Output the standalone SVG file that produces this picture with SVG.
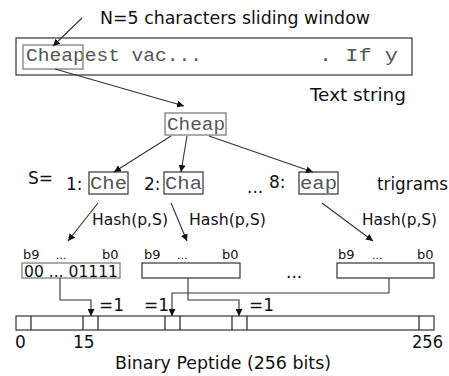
<svg xmlns="http://www.w3.org/2000/svg" width="449" height="376" viewBox="0 0 449 376">
<defs>
<marker id="ah" viewBox="0 0 10 10" refX="10" refY="5" markerWidth="7" markerHeight="7" orient="auto" markerUnits="userSpaceOnUse"><path d="M0,0 L10,5 L0,10 z" fill="#111"/></marker>
<style>
.s{font-family:"DejaVu Sans",Verdana,sans-serif;fill:#111}
.m{font-family:"Liberation Mono","Courier New",monospace;fill:#555}
.box{fill:#fff;stroke:#333;stroke-width:1.2}
.gbox{fill:none;stroke:#888;stroke-width:1.4}
.c{fill:none;stroke:#222;stroke-width:1.2}
.a{fill:none;stroke:#333;stroke-width:1.1;marker-end:url(#ah)}
</style>
</defs>
<rect width="449" height="376" fill="#fff"/>
<g id="title">
<text class="s" x="100" y="24" font-size="17" textLength="270" lengthAdjust="spacingAndGlyphs">N=5 characters sliding window</text>
</g>
<g id="textstring">
<rect class="box" x="16" y="38" width="396" height="37"/>
<text class="m" x="26" y="61" font-size="19" textLength="176" lengthAdjust="spacingAndGlyphs">Cheapest vac...</text>
<text class="m" x="319" y="61" font-size="19" textLength="79" lengthAdjust="spacingAndGlyphs">. If y</text>
<rect class="gbox" x="23" y="45" width="60" height="24"/>
<text class="s" x="310" y="101" font-size="17" textLength="96" lengthAdjust="spacingAndGlyphs">Text string</text>
</g>
<g id="cheap">
<rect class="gbox" x="165" y="113" width="61" height="22"/>
<text class="m" x="167" y="130" font-size="19" textLength="58" lengthAdjust="spacingAndGlyphs">Cheap</text>
</g>
<g id="trigrams">
<text class="s" x="28" y="184" font-size="17">S=</text>
<text class="s" x="66" y="190" font-size="17">1:</text>
<rect class="box" x="89" y="172" width="39" height="22"/>
<text class="m" x="90" y="189" font-size="18" textLength="37" lengthAdjust="spacingAndGlyphs">Che</text>
<text class="s" x="144" y="190" font-size="17">2:</text>
<rect class="box" x="164" y="172" width="39" height="22"/>
<text class="m" x="165" y="189" font-size="18" textLength="37" lengthAdjust="spacingAndGlyphs">Cha</text>
<text class="s" x="247" y="193" font-size="17">...</text>
<text class="s" x="269" y="188" font-size="17">8:</text>
<rect class="box" x="299" y="172" width="39" height="22"/>
<text class="m" x="300" y="189" font-size="18" textLength="37" lengthAdjust="spacingAndGlyphs">eap</text>
<text class="s" x="377" y="190" font-size="17" textLength="71" lengthAdjust="spacingAndGlyphs">trigrams</text>
</g>
<g id="hashlabels">
<text class="s" x="92" y="225" font-size="16" textLength="76" lengthAdjust="spacingAndGlyphs">Hash(p,S)</text>
<text class="s" x="189" y="225" font-size="16" textLength="77" lengthAdjust="spacingAndGlyphs">Hash(p,S)</text>
<text class="s" x="362" y="225" font-size="16" textLength="75" lengthAdjust="spacingAndGlyphs">Hash(p,S)</text>
</g>
<g id="bits1">
<text class="s" x="23" y="259" font-size="13" fill="#333">b9</text>
<text class="s" x="56" y="259" font-size="11" fill="#555">...</text>
<text class="s" x="102" y="259" font-size="13" fill="#333">b0</text>
<rect class="gbox" x="22" y="263" width="98" height="15" stroke="#666"/>
<text class="s" x="24" y="277" font-size="15" textLength="94" lengthAdjust="spacingAndGlyphs">00 ... 01111</text>
</g>
<g id="bits2">
<text class="s" x="144" y="259" font-size="13" fill="#333">b9</text>
<text class="s" x="177" y="259" font-size="11" fill="#555">...</text>
<text class="s" x="222" y="259" font-size="13" fill="#333">b0</text>
<rect class="box" x="142" y="263" width="98" height="15"/>
</g>
<g id="dots">
<text class="s" x="286" y="278" font-size="17">...</text>
</g>
<g id="bits8">
<text class="s" x="338" y="259" font-size="13" fill="#333">b9</text>
<text class="s" x="372" y="259" font-size="11" fill="#555">...</text>
<text class="s" x="417" y="259" font-size="13" fill="#333">b0</text>
<rect class="box" x="337" y="263" width="97" height="15"/>
</g>
<g id="peptide">
<rect class="box" x="16" y="316" width="418" height="14"/>
<path class="c" d="M31,316V330M83,316V330M98,316V330M165,316V330M180,316V330M232,316V330M247,316V330M419,316V330"/>
<text class="s" x="15" y="348" font-size="17">0</text>
<text class="s" x="73" y="348" font-size="17">15</text>
<text class="s" x="412" y="348" font-size="17" textLength="31" lengthAdjust="spacingAndGlyphs">256</text>
<text class="s" x="115" y="369" font-size="17" textLength="216" lengthAdjust="spacingAndGlyphs">Binary Peptide (256 bits)</text>
</g>
<g id="ones">
<text class="s" x="99" y="311" font-size="17">=1</text>
<text class="s" x="144" y="311" font-size="17">=1</text>
<text class="s" x="249" y="311" font-size="17">=1</text>
</g>
<g id="connectors">
<line class="a" x1="82" y1="18" x2="53" y2="46"/>
<line class="a" x1="55" y1="69" x2="184" y2="106"/>
<line class="a" x1="171" y1="136" x2="114" y2="172"/>
<line class="a" x1="187" y1="136" x2="181" y2="172"/>
<line class="a" x1="209" y1="136" x2="313" y2="172"/>
<line class="a" x1="98" y1="203" x2="68" y2="241"/>
<line class="a" x1="171" y1="203" x2="187" y2="241"/>
<line class="a" x1="322" y1="203" x2="373" y2="241"/>
<path class="a" d="M60,278V300H91V316"/>
<path class="a" d="M188,278V300H239V316"/>
<path class="a" d="M389,278V293H172V316"/>
</g>
</svg>
